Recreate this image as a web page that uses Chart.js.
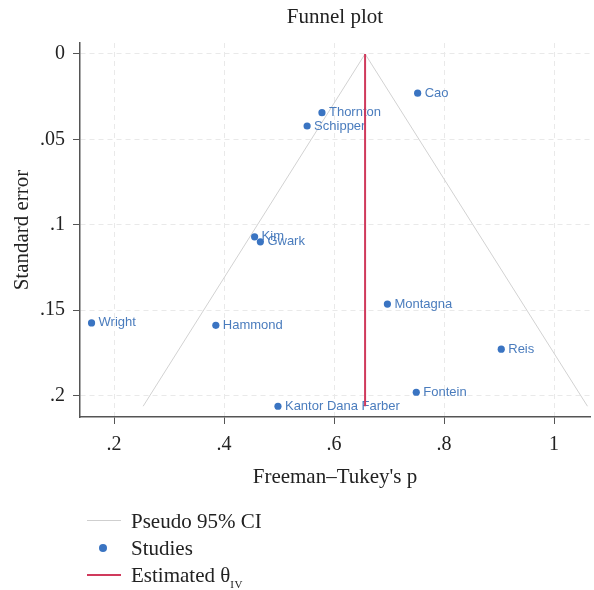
<!DOCTYPE html>
<html>
<head>
<meta charset="utf-8">
<script src="https://cdn.jsdelivr.net/npm/chart.js@4.4.1/dist/chart.umd.min.js"></script>
<style>
  html, body { margin: 0; padding: 0; background: #fff; }
  #wrap { position: relative; width: 594px; height: 590px; }
  #c { position: absolute; left: 0; top: 0; }
  .lg { position: absolute; left: 131px; font-family: "Liberation Serif", "DejaVu Serif", serif; font-size: 21px; color: #222; line-height: 22px; }
  .lg sub { font-size: 11px; vertical-align: -6px; letter-spacing: 0.5px; }
  .sw { position: absolute; left: 87px; width: 34px; }
  .dot { position: absolute; width: 8px; height: 8px; border-radius: 50%; background: #3a74c2; }
</style>
</head>
<body>
<div id="wrap">
  <canvas id="c" width="594" height="590"></canvas>
  <div class="sw" style="top:520px;height:1px;background:#cfcfcf;"></div>
  <div class="lg" style="top:510px;">Pseudo 95% CI</div>
  <div class="dot" style="left:99px;top:544px;"></div>
  <div class="lg" style="top:537px;">Studies</div>
  <div class="sw" style="top:574px;height:2px;background:#d03a5c;"></div>
  <div class="lg" style="top:564px;">Estimated θ<sub>IV</sub></div>
</div>
<script>
// ---- data ----
const studyNames = ['Cao','Thornton','Schipper','Kim','Gwark','Montagna','Wright','Hammond','Reis','Fontein','Kantor Dana Farber'];
const studyP  = [0.752, 0.578, 0.551, 0.4555, 0.466, 0.697, 0.159, 0.385, 0.904, 0.7495, 0.498];
const studySE = [0.0230, 0.0344, 0.0422, 0.1071, 0.1100, 0.1465, 0.1575, 0.1589, 0.1729, 0.1981, 0.2063];
const thetaIV = 0.6564;
const thetaLineSE = [0, 0.2063];
const funnelP  = [0.2528, 0.6564, 1.0608];
const funnelSE = [0.2063, 0, 0.2063];
const xTicks = [0.2, 0.4, 0.6, 0.8, 1];
const xTickLabels = ['.2', '.4', '.6', '.8', '1'];
const yTicks = [0, 0.05, 0.1, 0.15, 0.2];
const yTickLabels = ['0', '.05', '.1', '.15', '.2'];

const serif = '"Liberation Serif", "DejaVu Serif", serif';

const studyPoints = studyP.map((p, i) => ({ x: p, y: studySE[i], name: studyNames[i] }));
const funnelPoints = funnelP.map((p, i) => ({ x: p, y: funnelSE[i] }));
const thetaPoints = thetaLineSE.map(s => ({ x: thetaIV, y: s }));

const labelPlugin = {
  id: 'pointLabels',
  afterDatasetDraw(chart, args) {
    if (args.index !== 2) return;
    const ctx = chart.ctx;
    const meta = args.meta;
    ctx.save();
    ctx.font = '13px "Liberation Sans", Arial, sans-serif';
    ctx.fillStyle = '#4a7cbd';
    ctx.textAlign = 'left';
    ctx.textBaseline = 'middle';
    meta.data.forEach((el, i) => {
      ctx.fillText(studyPoints[i].name, el.x + 7, el.y);
    });
    ctx.restore();
  }
};

new Chart(document.getElementById('c'), {
  type: 'scatter',
  data: {
    datasets: [
      {
        label: 'Pseudo 95% CI',
        data: funnelPoints,
        showLine: true,
        borderColor: '#d2d2d2',
        borderWidth: 1,
        pointRadius: 0,
        order: 3
      },
      {
        label: 'Estimated θIV',
        data: thetaPoints,
        showLine: true,
        borderColor: '#d03a5c',
        borderWidth: 2,
        pointRadius: 0,
        order: 0
      },
      {
        label: 'Studies',
        data: studyPoints,
        pointRadius: 3.6,
        pointBackgroundColor: '#3a74c2',
        pointBorderColor: '#3a74c2',
        pointBorderWidth: 0,
        order: 1
      }
    ]
  },
  options: {
    responsive: false,
    animation: false,
    events: [],
    layout: { padding: { left: 0, right: 0, top: 0, bottom: 95 } },
    plugins: {
      legend: { display: false },
      tooltip: { enabled: false },
      title: {
        display: true,
        fullSize: false,
        text: 'Funnel plot',
        color: '#222',
        font: { family: serif, size: 21, weight: 'normal' },
        padding: { top: 5, bottom: 12.8 }
      }
    },
    scales: {
      x: {
        type: 'linear',
        position: 'bottom',
        min: 0.138,
        max: 1.0654,
        afterBuildTicks: s => { s.ticks = xTicks.map(v => ({ value: v })); },
        afterFit: s => { s.height = 78; },
        ticks: {
          color: '#222',
          font: { family: serif, size: 20 },
          padding: 9,
          maxRotation: 0,
          autoSkip: false,
          callback: (v, i) => xTickLabels[i]
        },
        grid: { color: '#e9e9e9', lineWidth: 1, tickColor: '#555', tickLength: 7 },
        border: { color: '#555', width: 1.5, dash: [5, 4] },
        title: {
          display: true,
          text: "Freeman–Tukey's p",
          color: '#222',
          font: { family: serif, size: 21 },
          padding: { top: 0, bottom: 4.5 }
        }
      },
      y: {
        type: 'linear',
        reverse: true,
        min: -0.0064,
        max: 0.2126,
        afterBuildTicks: s => { s.ticks = yTicks.map(v => ({ value: v })); },
        afterFit: s => { s.width = 80; },
        ticks: {
          color: '#222',
          font: { family: serif, size: 20 },
          padding: 8,
          autoSkip: false,
          callback: (v, i) => yTickLabels[i]
        },
        grid: { color: '#e9e9e9', lineWidth: 1, tickColor: '#555', tickLength: 7 },
        border: { color: '#555', width: 1.5, dash: [5, 4] },
        title: {
          display: true,
          text: 'Standard error',
          color: '#222',
          font: { family: serif, size: 21 },
          padding: { top: 10, bottom: 0 }
        }
      }
    }
  },
  plugins: [labelPlugin]
});
</script>
</body>
</html>
